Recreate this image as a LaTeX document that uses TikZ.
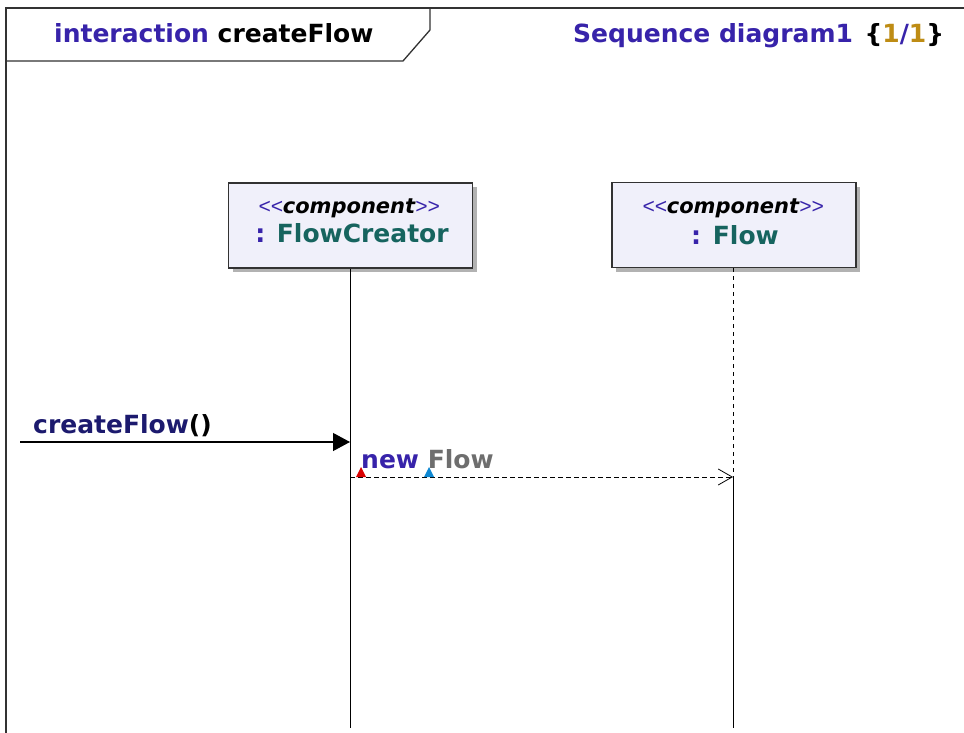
\documentclass[tikz,border=0pt]{standalone}
\usepackage{fontspec}
\setmainfont{DejaVu Sans}
\newfontfamily\libsans{Liberation Sans}
\usetikzlibrary{arrows.meta,shadows}
\definecolor{vio}{RGB}{55,35,170}
\definecolor{navy}{RGB}{28,26,110}
\definecolor{tealc}{RGB}{22,100,95}
\definecolor{gold}{RGB}{190,140,20}
\definecolor{flowgray}{RGB}{110,110,110}
\definecolor{boxfill}{RGB}{240,240,250}
\definecolor{frame}{RGB}{50,50,50}
\newcommand{\bigbf}{\fontsize{25}{29}\selectfont\bfseries}
\newcommand{\stereo}[1]{{\libsans\fontsize{21}{24}\selectfont\itshape\color{vio}<{}<}{\fontsize{21}{24}\selectfont\bfseries\itshape #1}{\libsans\fontsize{21}{24}\selectfont\itshape\color{vio}>{}>}}
\tikzset{
  lifebox/.style={draw=frame, line width=1.2pt, fill=boxfill, minimum width=244pt, minimum height=85pt, inner sep=0pt,
    drop shadow={shadow xshift=4pt, shadow yshift=-4pt, fill=black!30, opacity=1}},
  txt/.style={inner sep=0pt, anchor=base west, font=\bigbf},
  ctxt/.style={inner sep=0pt, anchor=base},
  lifeline/.style={draw=black, line width=1pt},
  frameline/.style={draw=frame, line width=1.3pt},
}
\begin{document}
\begin{tikzpicture}[x=1pt,y=-1pt]
\useasboundingbox (0,0) rectangle (964,733);
\fill[white] (0,0) rectangle (964,733);
% frame
\draw[frameline] (6,733) -- (6,8) -- (964,8);
\draw[frameline] (6,61) -- (403,61) -- (430,30) -- (430,8);
\node[txt, text=vio] (title) at (54,43) {interaction \textcolor{black}{createFlow}};
\node[txt, text=vio] (diag) at (573,43) {Sequence diagram1\hspace{0.12em} \textcolor{black}{\{}\textcolor{gold}{1}/\textcolor{gold}{1}\textcolor{black}{\}}};
% lifeline boxes
\node[lifebox] (fc) at (350.5,225.5) {};
\node[lifebox] (fl) at (734,225) {};
\node[ctxt] (fcst) at (349,213) {\stereo{component}};
\node[ctxt, font=\bigbf] (fcname) at (352,242) {\textcolor{vio}{:} \textcolor{tealc}{FlowCreator}};
\node[ctxt] (flst) at (733,213) {\stereo{component}};
\node[ctxt, font=\bigbf] (flname) at (735,244) {\textcolor{vio}{:} \textcolor{tealc}{Flow}};
% lifelines
\coordinate (fcend) at (350,728);
\coordinate (flend) at (733,728);
\coordinate (fcin) at (350,442);
\coordinate (fcout) at (350,477);
\coordinate (flmsg) at (733,477);
\coordinate (gate) at (20,442);
\draw[lifeline] (fc.south -| fcend) -- (fcend);
\draw[lifeline, dash pattern=on 4pt off 4pt] (fl.south -| flend) -- (flmsg);
\draw[lifeline] (flmsg) -- (flend);
% messages
\draw[line width=1.2pt, -{Triangle[length=17pt,width=18pt]}] (gate) -- (fcin);
\node[txt, text=navy] (m1) at (33,433) {createFlow\textcolor{black}{()}};
\draw[line width=1pt, dash pattern=on 5pt off 3pt, -{Straight Barb[length=14pt,width=16pt,line width=0.8pt]}] (fcout) -- (flmsg);
\node[txt] (m2) at (361,468) {\textcolor{vio}{new} \textcolor{flowgray}{Flow}};
\fill[red!85!black] (356,477) -- (366,477) -- (361,467) -- cycle;
\fill[cyan!70!blue] (424,477) -- (434,477) -- (429,467) -- cycle;
\end{tikzpicture}
\end{document}
